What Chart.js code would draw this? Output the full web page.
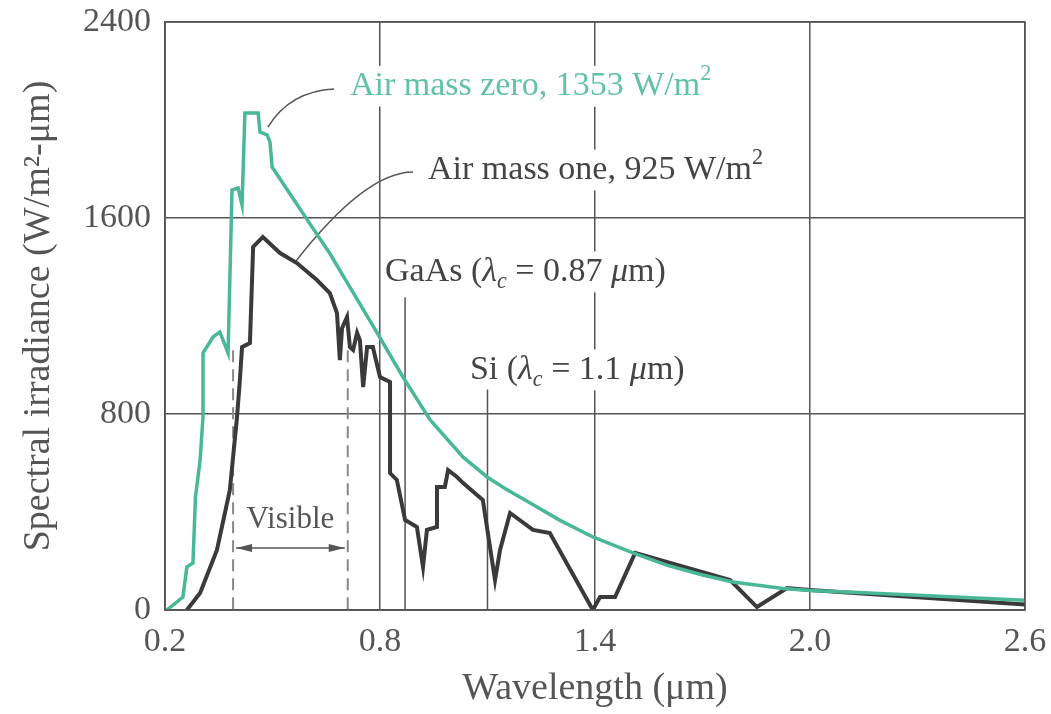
<!DOCTYPE html>
<html>
<head>
    <title>Spectral irradiance</title>
    <script src="https://cdn.jsdelivr.net/npm/chart.js"></script>
    <style>
        body { margin: 0; background: #fff; }
        #wrap { width: 1051px; height: 714px; }
    </style>
</head>
<body>
    <div id="wrap"><canvas id="chart"></canvas></div>

    <script>
        // Air mass zero (outside atmosphere), wavelength in um, irradiance W/m2-um
        const am0Wl  = [0.205, 0.25, 0.261, 0.278, 0.285, 0.298, 0.306, 0.306, 0.334, 0.353, 0.376, 0.387,
                        0.404, 0.415, 0.423, 0.46, 0.465, 0.485, 0.493, 0.499, 0.605, 0.66, 0.716, 0.792,
                        0.864, 0.94, 1.032, 1.099, 1.15, 1.219, 1.3, 1.394, 1.506, 1.6, 1.7, 1.785, 1.925,
                        2.0, 2.15, 2.3, 2.45, 2.6];
        const am0Irr = [0, 53, 175, 192, 461, 612, 788, 1049, 1114, 1135, 1049, 1714,
                        1722, 1653, 2029, 2029, 1951, 1939, 1910, 1808, 1575, 1455, 1318, 1131,
                        951, 776, 624, 543, 495, 437, 368, 298, 233, 183, 143, 114, 88,
                        80, 70, 60, 50, 40];

        // Air mass one (sea level)
        const am1Wl  = [0.261, 0.298, 0.345, 0.381, 0.401, 0.409, 0.415, 0.437, 0.446, 0.473, 0.521, 0.568,
                        0.624, 0.66, 0.68, 0.688, 0.694, 0.708, 0.716, 0.725, 0.736, 0.744, 0.753, 0.764,
                        0.78, 0.8, 0.828, 0.828, 0.847, 0.87, 0.903, 0.92, 0.931, 0.959, 0.959, 0.981,
                        0.99, 1.015, 1.032, 1.087, 1.121, 1.135, 1.163, 1.227, 1.274, 1.394, 1.414, 1.456,
                        1.512, 1.777, 1.852, 1.936, 2.0, 2.3, 2.6];
        const am1Irr = [0, 69, 245, 490, 788, 939, 1073, 1090, 1482, 1522, 1457, 1416,
                        1347, 1294, 1212, 1020, 1150, 1196, 1073, 1061, 1131, 1100, 910, 1073,
                        1073, 951, 931, 559, 531, 367, 339, 176, 327, 339, 502, 502,
                        571, 543, 518, 449, 122, 245, 396, 327, 314, 0, 53, 53,
                        233, 122, 12, 90, 82, 52, 22];

        // marker lines and tick labels
        const visibleBand = [0.39, 0.71];
        const cutoffs = [{ x: 0.87, top: 1277 }, { x: 1.1, top: 900 }];
        const xTicks = [0.2, 0.8, 1.4, 2.0, 2.6];
        const yTicks = [0, 800, 1600, 2400];

        const serif = '"Liberation Serif", "DejaVu Serif", serif';
        const green = '#48b898';
        const dark = '#3a3a3a';

        const toPoints = (xs, ys) => xs.map((x, i) => ({ x: x, y: ys[i] }));

        // draws text made of segments, sub/sup/italic
        function richText(ctx, parts, x, y, size, color) {
            ctx.fillStyle = color;
            ctx.textBaseline = 'middle';
            ctx.textAlign = 'left';
            let cx = x;
            parts.forEach(p => {
                const fs = (p.sub || p.sup) ? size * 0.65 : size;
                ctx.font = (p.it ? 'italic ' : '') + fs + 'px ' + serif;
                const dy = p.sub ? size * 0.3 : (p.sup ? -size * 0.35 : 0);
                ctx.fillText(p.t, cx, y + dy);
                cx += ctx.measureText(p.t).width;
            });
            return cx - x;
        }

        function labelBox(ctx, parts, x, y, size, color) {
            // measure first, blank out grid lines behind, then draw
            ctx.save();
            ctx.globalAlpha = 0;
            const w = richText(ctx, parts, x, y, size, color);
            ctx.restore();
            ctx.fillStyle = '#fff';
            ctx.fillRect(x - 4, y - size * 0.6, w + 8, size * 1.2);
            richText(ctx, parts, x, y, size, color);
        }

        const annotations = {
            id: 'annotations',
            beforeDatasetsDraw(chart) {
                const ctx = chart.ctx;
                const xs = chart.scales.x, ys = chart.scales.y;
                const px = v => xs.getPixelForValue(v);
                const py = v => ys.getPixelForValue(v);
                ctx.save();

                // labels
                labelBox(ctx, [{ t: 'Air mass zero, 1353 W/m' }, { t: '2', sup: true }],
                    px(0.716), py(2138), 34, '#62c2a6');
                labelBox(ctx, [{ t: 'Air mass one, 925 W/m' }, { t: '2', sup: true }],
                    px(0.934), py(1796), 34, '#444');
                labelBox(ctx, [{ t: 'GaAs (' }, { t: 'λ', it: true }, { t: 'c', it: true, sub: true },
                    { t: ' = 0.87 ' }, { t: 'μ', it: true }, { t: 'm)' }],
                    px(0.814), py(1380), 34, '#444');
                labelBox(ctx, [{ t: 'Si (' }, { t: 'λ', it: true }, { t: 'c', it: true, sub: true },
                    { t: ' = 1.1 ' }, { t: 'μ', it: true }, { t: 'm)' }],
                    px(1.051), py(980), 34, '#444');

                // cutoff wavelength lines
                ctx.strokeStyle = '#555';
                ctx.lineWidth = 1.5;
                cutoffs.forEach(c => {
                    ctx.beginPath();
                    ctx.moveTo(px(c.x), py(c.top));
                    ctx.lineTo(px(c.x), py(0));
                    ctx.stroke();
                });

                // visible band
                ctx.setLineDash([12, 7]);
                ctx.strokeStyle = '#888';
                ctx.lineWidth = 2;
                visibleBand.forEach(v => {
                    ctx.beginPath();
                    ctx.moveTo(px(v), py(1060));
                    ctx.lineTo(px(v), py(0));
                    ctx.stroke();
                });
                ctx.setLineDash([]);
                const ay = py(253), ax1 = px(visibleBand[0]) + 3, ax2 = px(visibleBand[1]) - 3;
                ctx.strokeStyle = '#555';
                ctx.lineWidth = 1.5;
                ctx.beginPath();
                ctx.moveTo(ax1, ay);
                ctx.lineTo(ax2, ay);
                ctx.stroke();
                ctx.fillStyle = '#555';
                [[ax1, 1], [ax2, -1]].forEach(([x, d]) => {
                    ctx.beginPath();
                    ctx.moveTo(x, ay);
                    ctx.lineTo(x + d * 16, ay - 4);
                    ctx.lineTo(x + d * 16, ay + 4);
                    ctx.closePath();
                    ctx.fill();
                });
                ctx.fillStyle = '#fff';
                ctx.fillRect(px(0.41), py(367) - 17, px(0.69) - px(0.41), 34);
                ctx.font = '31px ' + serif;
                ctx.fillStyle = '#555';
                ctx.textAlign = 'center';
                ctx.textBaseline = 'middle';
                ctx.fillText('Visible', px(0.55), py(367));

                // leader lines
                ctx.strokeStyle = '#555';
                ctx.lineWidth = 1.5;
                ctx.beginPath();
                ctx.moveTo(px(0.487), py(1971));
                ctx.quadraticCurveTo(px(0.548), py(2118), px(0.672), py(2127));
                ctx.stroke();
                ctx.beginPath();
                ctx.moveTo(px(0.563), py(1420));
                ctx.quadraticCurveTo(px(0.759), py(1788), px(0.892), py(1788));
                ctx.stroke();

                ctx.restore();
            }
        };

        const ctx = document.getElementById('chart').getContext('2d');
        new Chart(ctx, {
            type: 'line',
            data: {
                datasets: [{
                    label: 'Air mass zero',
                    data: toPoints(am0Wl, am0Irr),
                    borderColor: green,
                    borderWidth: 3.5,
                    pointRadius: 0,
                    tension: 0
                }, {
                    label: 'Air mass one',
                    data: toPoints(am1Wl, am1Irr),
                    borderColor: dark,
                    borderWidth: 4,
                    pointRadius: 0,
                    tension: 0
                }]
            },
            options: {
                responsive: true,
                maintainAspectRatio: false,
                animation: false,
                layout: { padding: { top: 22, right: 26, left: 16, bottom: 0 } },
                plugins: { legend: { display: false }, tooltip: { enabled: false } },
                scales: {
                    x: {
                        type: 'linear',
                        min: 0.2,
                        max: 2.6,
                        afterBuildTicks: s => { s.ticks = xTicks.map(v => ({ value: v })); },
                        afterFit: s => { s.height = 104; s.paddingLeft = 0; s.paddingRight = 0; },
                        grid: { color: '#555', lineWidth: 1.5, drawTicks: false },
                        border: { color: '#555', width: 1.5 },
                        ticks: {
                            padding: 12,
                            color: '#555',
                            font: { family: serif, size: 34 },
                            callback: v => v.toFixed(1)
                        },
                        title: {
                            display: true,
                            text: 'Wavelength (μm)',
                            color: '#555',
                            font: { family: serif, size: 38 },
                            padding: { top: 0, bottom: 2 }
                        }
                    },
                    y: {
                        min: 0,
                        max: 2400,
                        afterBuildTicks: s => { s.ticks = yTicks.map(v => ({ value: v })); },
                        afterFit: s => { s.width = 149; s.paddingTop = 0; s.paddingBottom = 0; },
                        grid: { color: '#555', lineWidth: 1.5, drawTicks: false },
                        border: { color: '#555', width: 1.5 },
                        ticks: {
                            padding: 14,
                            color: '#555',
                            font: { family: serif, size: 34 },
                            callback: v => String(v)
                        },
                        title: {
                            display: true,
                            text: 'Spectral irradiance (W/m²-μm)',
                            color: '#555',
                            font: { family: serif, size: 38 },
                            padding: { top: 0, bottom: 0 }
                        }
                    }
                }
            },
            plugins: [annotations, {
                id: 'frame',
                afterDraw(chart) {
                    const a = chart.chartArea, c = chart.ctx;
                    c.save();
                    c.strokeStyle = '#555';
                    c.lineWidth = 1.5;
                    c.strokeRect(a.left, a.top, a.right - a.left, a.bottom - a.top);
                    c.restore();
                }
            }]
        });
    </script>
</body>
</html>
